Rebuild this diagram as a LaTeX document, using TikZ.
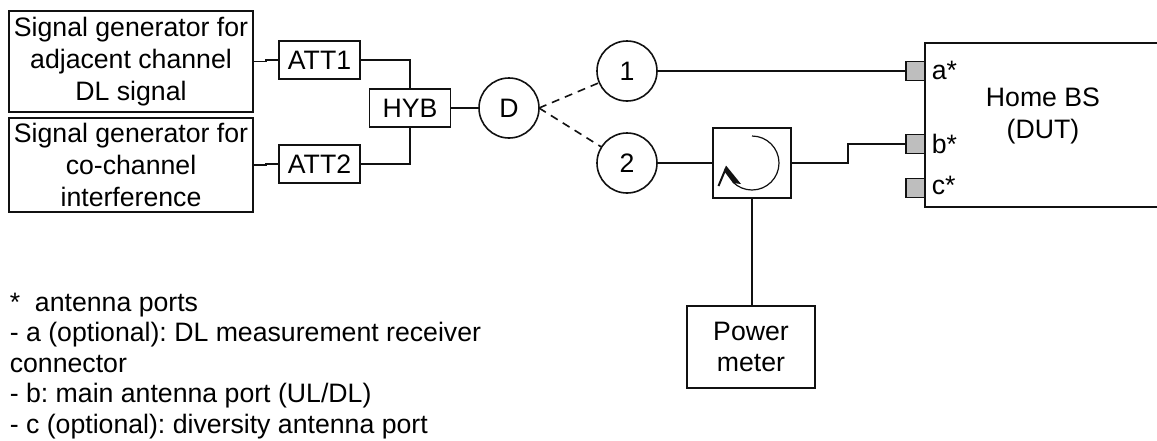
\documentclass[tikz,border=0pt]{standalone}
\usepackage{fontspec}
\setmainfont{Liberation Sans}
\frenchspacing
\usetikzlibrary{arrows.meta, calc}
\definecolor{cblack}{HTML}{111111}
\definecolor{cport}{HTML}{BEBEBE}
\tikzset{
  every picture/.style={line width=1.2pt},
  box/.style={draw=cblack, align=center, inner sep=0pt, outer sep=0pt, font=\fontsize{20}{23.7}\selectfont},
  genbox/.style={box, minimum width=183pt, minimum height=#1},
  attbox/.style={box, minimum width=60.5pt, minimum height=28.5pt},
  disc/.style={box, circle, minimum size=45pt},
  port/.style={draw=cblack, fill=cport, inner sep=0pt, outer sep=0pt, minimum width=14.25pt, minimum height=14.25pt},
  label/.style={font=\fontsize{20}{23.7}\selectfont, align=center, inner sep=0pt},
  note/.style={font=\fontsize{20}{22.9}\selectfont, align=left, inner sep=0pt, anchor=north west},
  wire/.style={draw=cblack},
  dashwire/.style={wire, dash pattern=on 6pt off 4.5pt},
}

\begin{document}
\begin{tikzpicture}[x=0.75pt, y=-0.75pt]
  \useasboundingbox (0,0) rectangle (1157,440);
  % signal path
  \node[genbox=75.75pt] (gen1) at (131,61.5) {Signal generator for\\adjacent channel\\DL signal};
  \node[genbox=70.5pt] (gen2) at (131,165) {Signal generator for\\co-channel\\interference};
  \node[attbox] (att1) at (319.5,60) {ATT1};
  \node[attbox] (att2) at (319.5,164) {ATT2};
  \node[attbox] (hyb) at (410,108) {HYB};
  \node[disc] (dsw) at (509,108) {D};
  \node[disc] (sw1) at (627,71) {1};
  \node[disc] (sw2) at (627,163) {2};
  \node[box, minimum width=58.5pt, minimum height=52.5pt] (circ) at (752,163) {};
  \node[box, minimum width=96pt, minimum height=61.5pt] (meter) at (751,347) {Power\\meter};
  % DUT, open at the page edge
  \draw[wire] (1157,43) -- (925,43) -- (925,207) -- (1157,207);
  \node[label] (dut) at (1043,116) {Home BS\\(DUT)};
  \node[port] (porta) at (915.5,71) {};
  \node[port] (portb) at (915.5,144) {};
  \node[port] (portc) at (915.5,188) {};
  \node[label, anchor=west] (laba) at (931,70) {a*};
  \node[label, anchor=west] (labb) at (931,144) {b*};
  \node[label, anchor=west] (labc) at (931,185) {c*};
  % circulator symbol
  \draw[cblack, line width=0.9pt] (752,136) arc[start angle=-90, end angle=135, radius=27];
  \draw[cblack, line width=1.5pt] (718.5,186) -- (726,168);
  \fill[cblack] (726,165.5) -- (741,184) -- (733,183) -- (724,171) -- cycle;
  % connectors
  \draw[wire] (gen1.east) -- ++(13,0) |- (att1.west);
  \draw[wire] (gen2.east) -- ++(13,0) |- (att2.west);
  \draw[wire] (att1.east) -| (hyb.north);
  \draw[wire] (att2.east) -| (hyb.south);
  \draw[wire] (hyb.east) -- (dsw.west);
  \draw[dashwire] (dsw.east) -- (sw1);
  \draw[dashwire] (dsw.east) -- (sw2);
  \draw[wire] (sw1.east) -- (porta.west);
  \draw[wire] (sw2.east) -- (circ.west);
  \draw[wire] (circ.east) -- ++(57,0) |- (portb.west);
  \draw[wire] (circ.south) -- (meter.north -| circ.south);
  % footnotes
  \node[note] (notes) at (9,292) {*\ \ antenna ports\\- a (optional): DL measurement receiver\\connector\\- b: main antenna port (UL/DL)\\- c (optional): diversity antenna port};
\end{tikzpicture}
\end{document}
